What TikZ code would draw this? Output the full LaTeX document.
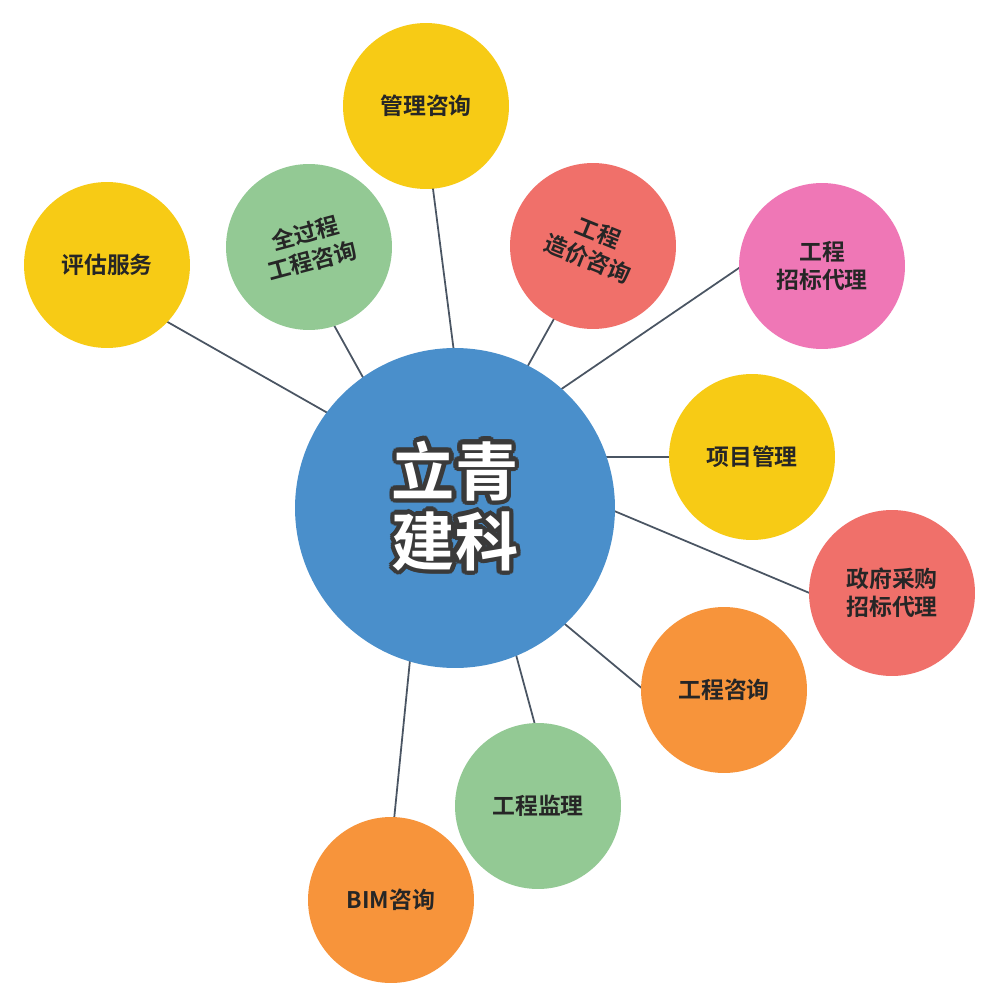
\documentclass[tikz,border=0pt]{standalone}
\usepackage{fontspec}
\setmainfont{Noto Sans CJK SC}[BoldFont={Noto Sans CJK SC Bold}]
\usepackage{contour}
\contourlength{2.5pt}
\contournumber{16}
\definecolor{cy}{HTML}{F7CB15}
\definecolor{cg}{HTML}{93C994}
\definecolor{cr}{HTML}{F0706A}
\definecolor{cp}{HTML}{EF77B6}
\definecolor{cb}{HTML}{4A8FCB}
\definecolor{co}{HTML}{F7943B}
\definecolor{ln}{HTML}{4A5563}
\definecolor{dk}{HTML}{3A3A3A}
\pgfdeclarelayer{bg}
\pgfsetlayers{bg,main}
\begin{document}
\begin{tikzpicture}[x=0.02cm,y=-0.02cm,
  sat/.style={circle,draw=none,minimum size=3.32cm,inner sep=0pt,align=center,font=\bfseries\fontsize{13}{16}\selectfont,text=black!85},
  link/.style={draw=ln,line width=1pt}]
\useasboundingbox (0,0) rectangle (1000,1000);
\node[circle,fill=cb,minimum size=6.4cm,inner sep=0pt] (c) at (455,508) {};
\node[sat,fill=cy] (a1) at (426,106) {管理咨询};
\node[sat,fill=cy] (a2) at (107,265) {评估服务};
\node[sat,fill=cg] (a3) at (309,247) {};
\node[sat,fill=cr] (a4) at (593,246) {};
\node[sat,fill=cp] (a5) at (822,266) {工程\\招标代理};
\node[sat,fill=cy] (a6) at (752,457) {项目管理};
\node[sat,fill=cr] (a7) at (892,593) {政府采购\\招标代理};
\node[sat,fill=co] (a8) at (724,690) {工程咨询};
\node[sat,fill=cg] (a9) at (538,806) {工程监理};
\node[sat,fill=co] (a10) at (391,900) {BIM咨询};
\node[align=center,rotate=15,font=\bfseries\fontsize{13}{16}\selectfont,text=black!85] (t3) at (a3.center) {全过程\\工程咨询};
\node[align=center,rotate=-22,font=\bfseries\fontsize{13}{16}\selectfont,text=black!85] (t4) at (a4.center) {工程\\造价咨询};
\node[align=center,font=\bfseries\fontsize{36}{40}\selectfont,text=white] (ct) at (c.center) {\contour{dk}{立青}\\\contour{dk}{建科}};
\coordinate (p1) at (455,360); \coordinate (q1) at (428,150);
\coordinate (p2) at (340,420); \coordinate (q2) at (150,312);
\coordinate (p3) at (370,390); \coordinate (q3) at (320,300);
\coordinate (p4) at (520,380); \coordinate (q4) at (570,290);
\coordinate (p5) at (560,390); \coordinate (q5) at (780,240);
\coordinate (p6) at (590,457); \coordinate (q6) at (720,457);
\coordinate (p7) at (600,505); \coordinate (q7) at (850,610);
\coordinate (p8) at (560,620); \coordinate (q8) at (680,720);
\coordinate (p9) at (512,640); \coordinate (q9) at (550,780);
\coordinate (p10) at (412,640); \coordinate (q10) at (390,860);
\begin{pgfonlayer}{bg}
\fill[white] (0,0) rectangle (1000,1000);
\foreach \i in {1,...,10}{\path[link] (p\i) -- (q\i);}
\end{pgfonlayer}
\end{tikzpicture}
\end{document}
